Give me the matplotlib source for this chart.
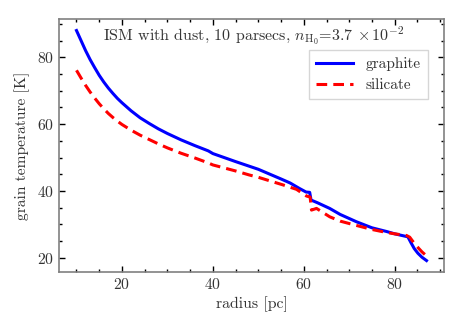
import matplotlib
matplotlib.use("Agg")
import matplotlib.pyplot as plt
from matplotlib.ticker import MultipleLocator

plt.rcParams['font.family'] = 'serif'
plt.rcParams['font.serif'] = ['cmr10']
plt.rcParams['mathtext.fontset'] = 'cm'
plt.rcParams['axes.formatter.use_mathtext'] = True
plt.rcParams['axes.unicode_minus'] = False

r_graphite = [10, 11, 12, 13, 14, 15, 16, 17, 18, 19, 20, 22, 24, 26, 28, 30, 33, 36, 39,
              40, 45, 50, 55, 57, 59, 60.5, 61.3, 61.6, 63, 65.7, 68, 71.6, 75, 78.2,
              80, 82.9, 83.6, 84.3, 85.1, 86, 87]
T_graphite = [88.0, 85.0, 82.0, 79.3, 76.9, 74.6, 72.6, 70.8, 69.2, 67.7, 66.4, 64.0,
              61.9, 60.2, 58.6, 57.2, 55.3, 53.6, 52.0, 51.2, 48.8, 46.5, 43.6, 42.4,
              40.8, 39.7, 39.6, 37.3, 36.5, 34.8, 33.0, 30.8, 29.0, 27.9, 27.2, 26.3,
              24.5, 22.8, 21.4, 20.2, 19.2]
r_silicate = [10, 11, 12, 13, 14, 15, 16, 17, 18, 19, 20, 22, 24, 26, 28, 30, 33, 36, 39,
              40, 45, 48, 50, 55.5, 58.4, 60.6, 61.4, 61.7, 62.8, 65.7, 68, 71.6, 75,
              78.2, 80, 82.6, 83.3, 84.5, 86, 87]
T_silicate = [76.1, 73.8, 71.6, 69.6, 67.8, 66.1, 64.6, 63.2, 62.0, 60.9, 59.9, 58.2,
              56.7, 55.4, 54.1, 52.9, 51.3, 49.9, 48.4, 47.8, 46.0, 44.8, 44.1, 41.8,
              40.5, 38.5, 38.2, 34.3, 34.8, 32.3, 31.0, 29.7, 28.5, 27.6, 27.2, 26.7,
              26.2, 24.0, 21.8, 20.6]

fig = plt.figure(figsize=(4.63, 3.31), dpi=100)
ax = fig.add_axes([0.1274, 0.178, 0.8316, 0.7646])

ax.plot(r_graphite, T_graphite, color='blue', lw=2.2, label='graphite')
ax.plot(r_silicate, T_silicate, color='red', lw=2.2, ls=(0, (3.5, 2)), label='silicate')

ax.xaxis.set_major_locator(MultipleLocator(20))
ax.xaxis.set_minor_locator(MultipleLocator(5))
ax.yaxis.set_major_locator(MultipleLocator(20))
ax.yaxis.set_minor_locator(MultipleLocator(5))
ax.tick_params(which='both', direction='in', top=True, right=True, labelsize=11.3,
               colors='black', labelcolor='#333333')
ax.tick_params(which='major', length=4, width=1)
ax.tick_params(which='minor', length=2, width=1)
for s in ax.spines.values():
    s.set_color('#808080')
    s.set_linewidth(1.2)

ax.set_xlabel('radius [pc]', fontsize=11.4, color='#333333', labelpad=3)
ax.set_ylabel('grain temperature [K]', fontsize=11.2, color='#333333', labelpad=5)

ax.text(0.505, 0.93, r'ISM with dust, 10 parsecs, $n_{\rm H_0}$=3.7 $\times\,10^{-2}$',
        transform=ax.transAxes, ha='center', va='center', fontsize=11.5, color='#333333')

leg = ax.legend(loc='upper right', bbox_to_anchor=(0.958, 0.877), borderaxespad=0,
                fontsize=11, fancybox=False, edgecolor='#cccccc', handlelength=2.4,
                labelspacing=0.5, borderpad=0.45, handletextpad=0.85)
for t in leg.get_texts():
    t.set_color('#333333')

fig.savefig('out.png', dpi=100)
